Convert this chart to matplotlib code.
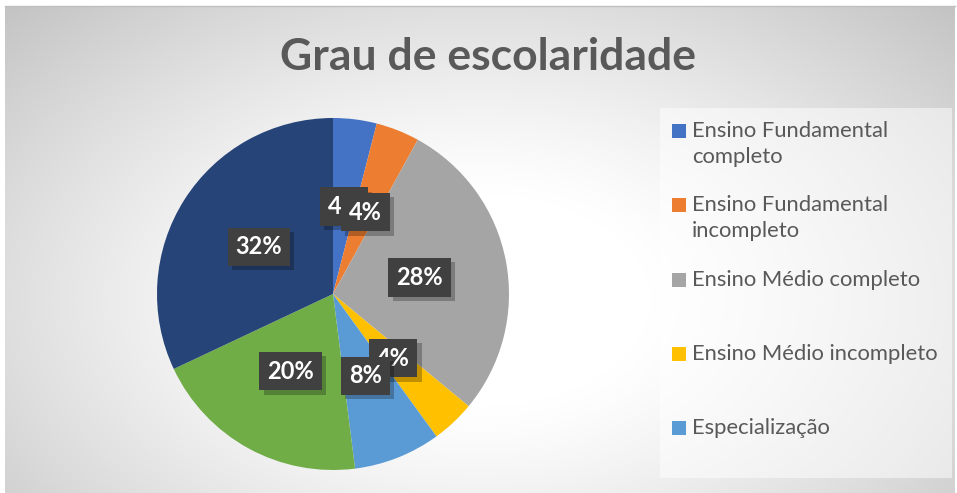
import numpy as np
import matplotlib
matplotlib.use("Agg")
import matplotlib.pyplot as plt
from matplotlib.patches import Rectangle
import matplotlib.patheffects as pe

# ---- data ----
title = "Grau de escolaridade"
categories = ["Ensino Fundamental\ncompleto", "Ensino Fundamental\nincompleto",
              "Ensino Médio completo", "Ensino Médio incompleto",
              "Especialização", "Ensino Superior incompleto", "Ensino Superior completo"]
values = [4, 4, 28, 4, 8, 20, 32]
colors = ["#4472C4", "#ED7D31", "#A5A5A5", "#FFC000", "#5B9BD5", "#70AD47", "#264478"]
legend_shown = 5

W, H = 957, 493
fig = plt.figure(figsize=(W / 100, H / 100), dpi=100)
fig.patch.set_facecolor("white")

# background radial gradient
bg = fig.add_axes([5 / W, 0, (955 - 5) / W, (H - 6) / H])
bg.axis("off")
yy, xx = np.mgrid[6:H, 5:955]
dx = (xx - 480) / 480.0
dy = (yy - 300) / 300.0
r = np.sqrt(dx ** 2 + dy ** 2) / np.sqrt(2)
v = 1 - 0.24 * np.clip((r - 0.25) / 0.75, 0, 1) ** 1.2
img = np.dstack([v, v, v])
bg.imshow(img, extent=[0, 1, 0, 1], aspect="auto", interpolation="bilinear")
bg.set_xlim(0, 1); bg.set_ylim(0, 1)
# top border line
fig.add_artist(plt.Line2D([5 / W, 955 / W], [(H - 5.5) / H] * 2, color="#bfbfbf", lw=1))

# legend background panel
fig.add_artist(Rectangle((660 / W, (H - 478) / H), (952 - 660) / W, (478 - 108) / H,
                         transform=fig.transFigure, facecolor="white", alpha=0.5,
                         edgecolor="none"))

# title
fig.text(488 / W, 1 - 57 / H, title, ha="center", va="center",
         fontsize=32, fontweight="bold", color="#595959", family="Lato")

# pie
cx, cy, rad = 333, 294, 176
ax = fig.add_axes([(cx - rad) / W, (H - cy - rad) / H, 2 * rad / W, 2 * rad / H])
wedges, texts, autotexts = ax.pie(values, colors=colors, startangle=90, counterclock=False,
                                  autopct="%1.0f%%", pctdistance=0.5, radius=1,
                                  wedgeprops=dict(linewidth=0))
for t in autotexts:
    t.set_color("white")
    t.set_fontsize(17)
    t.set_fontweight("bold")
    t.set_family("Lato")
    t.set_bbox(dict(boxstyle="square,pad=0.33", facecolor="#404040", edgecolor="none"))
    t.get_bbox_patch().set_path_effects([
        pe.SimplePatchShadow(offset=(3, -3), shadow_rgbFace="black", alpha=0.25),
        pe.Normal()])
ax.set_xlim(-1, 1); ax.set_ylim(-1, 1)
ax.axis("off")

# legend (manual)
ys = [131, 205, 280, 354, 428]
for i in range(legend_shown):
    y = ys[i]
    fig.add_artist(Rectangle((672 / W, (H - y - 7) / H), 14 / W, 14 / H,
                             transform=fig.transFigure, facecolor=colors[i], edgecolor="none"))
    fig.text(692 / W, 1 - (y - 10) / H, categories[i], ha="left", va="top",
             fontsize=15.8, color="#595959", family="Lato", linespacing=1.4)

fig.savefig("out.png", dpi=100)
